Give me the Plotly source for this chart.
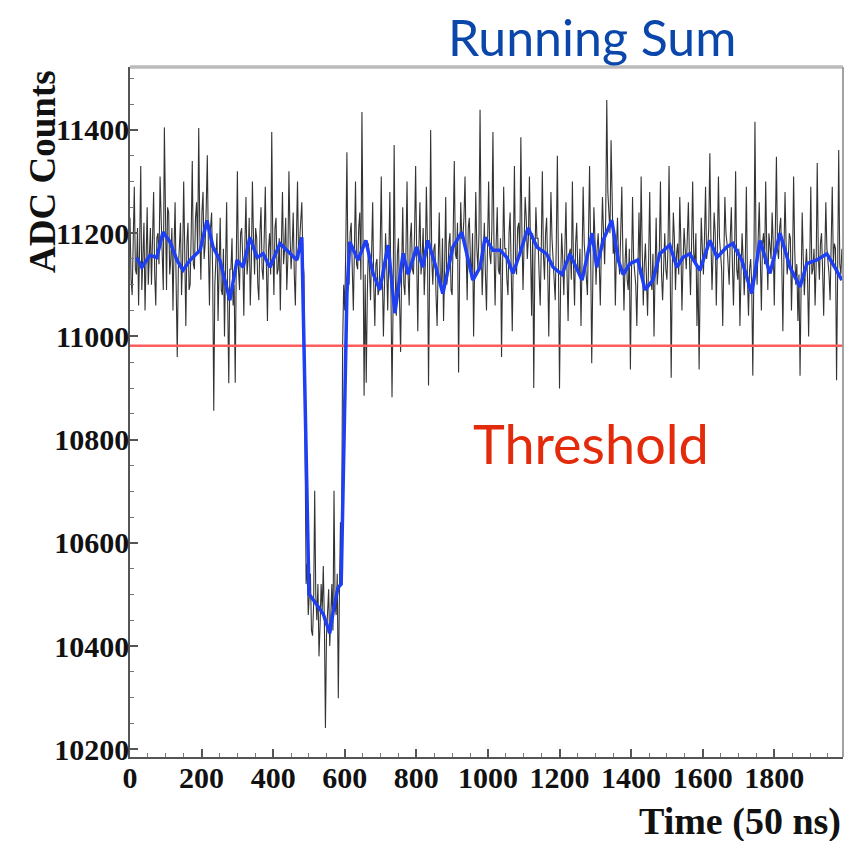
import plotly.graph_objects as go

# ---------------- data ----------------
sample_step = 3  # time units between raw samples shown
raw_adc = [
    11230, 11110, 11080, 11200, 11290, 11130, 11120, 11210, 11060, 11180, 11330, 11090, 11140, 11220, 11050, 11160, 11250, 11100, 11170, 11210,
    11100, 11230, 11280, 11120, 11060, 11190, 11200, 11140, 11310, 11230, 11130, 11090, 11405, 11170, 11090, 11250, 11240, 11120, 11150, 11210,
    11050, 11170, 11260, 11100, 10960, 11130, 11190, 11220, 11080, 11150, 11300, 11110, 11020, 11180, 11220, 11090, 11100, 11200, 11340, 11140,
    11130, 11230, 11260, 11160, 11404, 11200, 11110, 11240, 11280, 11150, 11180, 11250, 11351, 11170, 11060, 11210, 11240, 11120, 10856, 11100,
    11150, 11200, 11030, 11120, 11230, 11090, 11080, 11170, 11000, 11140, 11260, 11060, 10909, 11130, 11130, 11190, 11060, 11100, 10910, 11150,
    11320, 11130, 11090, 11200, 11210, 11150, 11040, 11180, 11270, 11120, 11150, 11230, 11060, 11140, 11300, 11190, 11120, 11210, 11190, 11100,
    11070, 11200, 11250, 11130, 11110, 11190, 11290, 11140, 11030, 11170, 11200, 11120, 11396, 11180, 11080, 11210, 11230, 11120, 11130, 11190,
    11050, 11180, 11280, 11140, 11170, 11230, 11090, 11150, 11320, 11200, 11130, 11170, 11240, 11120, 11060, 11190, 11300, 11150, 11180, 11220,
    11260, 11150, 11120, 10800, 10520, 10560, 10460, 10500, 10540, 10430, 10420, 10480, 10701, 10500, 10450, 10520, 10380, 10440, 10520, 10470,
    10555, 10450, 10241, 10420, 10470, 10510, 10400, 10460, 10520, 10430, 10701, 10480, 10460, 10540, 10299, 10500, 10640, 10560, 10980, 11100,
    11050, 11180, 11357, 11120, 11100, 11200, 11220, 11130, 11050, 11170, 11300, 11140, 11130, 11210, 11240, 11110, 11435, 11190, 10885, 11120,
    10910, 11080, 11180, 11130, 11070, 11160, 11260, 11100, 11020, 11140, 11150, 11080, 11090, 11170, 11310, 11120, 11000, 11100, 11200, 11140,
    11050, 11150, 11280, 11090, 10882, 11060, 11371, 11120, 11040, 11160, 11190, 11070, 10970, 11130, 11250, 11100, 11080, 11170, 11300, 11120,
    11060, 11190, 11220, 11130, 11120, 11200, 11330, 11150, 11010, 11170, 11260, 11120, 11150, 11210, 11080, 11140, 11290, 11180, 10905, 11120,
    11400, 11150, 11100, 11170, 11180, 11080, 11020, 11140, 11240, 11110, 11090, 11190, 11030, 11130, 11270, 11100, 11120, 11180, 11200, 11090,
    11080, 11200, 11340, 11160, 11150, 11220, 10930, 11140, 11260, 11190, 11190, 11230, 11310, 11170, 11070, 11210, 11230, 11150, 11110, 11200,
    11000, 11140, 11280, 11170, 11130, 11200, 11439, 11190, 11080, 11150, 11220, 11120, 11050, 11180, 11300, 11160, 11140, 11210, 11396, 11170,
    11060, 11180, 11250, 11130, 11120, 11190, 10960, 11140, 11290, 11170, 11170, 11110, 11080, 11200, 11240, 11130, 11010, 11160, 11330, 11150,
    11120, 11210, 11220, 11160, 11386, 11200, 11090, 11180, 11270, 11230, 11150, 11190, 11310, 11170, 11040, 11200, 10900, 11140, 11250, 11190,
    11190, 11120, 11060, 11170, 11320, 11160, 11110, 11200, 11230, 11130, 11000, 11150, 11280, 11190, 11140, 11100, 11070, 11180, 11350, 11140,
    10899, 11100, 11200, 11150, 11080, 11170, 11260, 11120, 11030, 11160, 11170, 11110, 11300, 11140, 11060, 11180, 11220, 11130, 11120, 11170,
    11020, 11150, 11290, 11180, 11150, 11120, 11080, 11200, 11330, 11160, 10948, 11110, 11250, 11190, 11100, 11170, 11200, 11140, 11060, 11180,
    11270, 11200, 11140, 11230, 11458, 11280, 11250, 11200, 11380, 11220, 11160, 11190, 11060, 11170, 11230, 11150, 11120, 11200, 11290, 11160,
    11050, 11140, 11190, 11110, 11090, 11170, 10936, 11120, 11270, 11150, 11130, 11100, 11020, 11160, 11240, 11120, 11310, 11170, 11060, 11140,
    11180, 11110, 11040, 11150, 11280, 11120, 11090, 11160, 11000, 11130, 11230, 11100, 11140, 11170, 11300, 11120, 11070, 11150, 11200, 11130,
    11110, 11170, 11330, 11150, 10920, 11130, 11240, 11190, 11090, 11160, 11180, 11120, 11270, 11180, 11050, 11140, 11210, 11170, 11130, 11190,
    11260, 11150, 11080, 11180, 11300, 11160, 11140, 11200, 11020, 11130, 10936, 11110, 11230, 11170, 11120, 11190, 11290, 11150, 11170, 11210,
    11355, 11190, 11090, 11160, 11240, 11200, 11060, 11170, 11310, 11190, 11150, 11130, 11020, 11180, 11270, 11200, 11180, 11140, 11100, 11190,
    11250, 11140, 11060, 11160, 11320, 11130, 11110, 11170, 11020, 11120, 11200, 11150, 11080, 11140, 11290, 11110, 11040, 11130, 11150, 11100,
    10924, 11130, 11416, 11170, 11100, 11190, 11260, 11150, 11050, 11180, 11200, 11140, 11300, 11170, 11090, 11200, 11170, 11150, 11240, 11180,
    11060, 11190, 11348, 11170, 11150, 11210, 11230, 11140, 11010, 11160, 11280, 11180, 11120, 11150, 11200, 11190, 11050, 11140, 11310, 11170,
    11100, 11140, 11030, 11120, 10924, 11100, 11240, 11150, 11080, 11130, 11170, 11110, 11000, 11140, 11290, 11120, 11130, 11170, 11060, 11140,
    11336, 11160, 11110, 11180, 11200, 11130, 11040, 11150, 11260, 11170, 11150, 11120, 11070, 11160, 11290, 11140, 11180, 11170, 10915, 11120,
    11361, 11140, 11120, 11170,
]
raw_time = [i * sample_step for i in range(len(raw_adc))]

sum_time = [19, 33, 56, 75, 92, 112, 131, 148, 168, 196, 215, 232, 251, 279, 299,
            316, 335, 355, 372, 391, 419, 447, 466, 480, 500, 520, 540, 558, 568,
            581, 590, 606, 614, 637, 659, 679, 698, 721, 740, 763, 777, 801, 818,
            832, 852, 874, 902, 927, 944, 958, 978, 992, 1014, 1034, 1053, 1070,
            1089, 1112, 1137, 1164, 1182, 1207, 1229, 1263, 1291, 1304, 1322, 1346,
            1364, 1378, 1397, 1419, 1439, 1461, 1480, 1508, 1528, 1545, 1564, 1592,
            1620, 1640, 1667, 1684, 1709, 1737, 1760, 1788, 1816, 1844, 1872, 1891,
            1919, 1947, 1969, 1989]
sum_adc = [11153, 11134, 11157, 11153, 11202, 11183, 11148, 11128, 11148, 11167,
           11225, 11173, 11148, 11070, 11148, 11134, 11192, 11153, 11160, 11134,
           11180, 11160, 11148, 11192, 10501, 10482, 10462, 10425, 10468, 10513,
           10520, 11083, 11183, 11148, 11186, 11122, 11090, 11177, 11045, 11161,
           11120, 11173, 11134, 11186, 11141, 11083, 11173, 11202, 11148, 11109,
           11134, 11192, 11167, 11167, 11153, 11122, 11160, 11210, 11173, 11160,
           11134, 11120, 11160, 11109, 11200, 11134, 11186, 11225, 11148, 11120,
           11141, 11148, 11090, 11109, 11160, 11177, 11134, 11153, 11160, 11128,
           11186, 11153, 11173, 11180, 11148, 11083, 11186, 11122, 11200, 11134,
           11096, 11141, 11148, 11160, 11134, 11109]

threshold = 10982
x_range = [0, 1992]
y_range = [10185, 11522]
y_ticks = [10200, 10400, 10600, 10800, 11000, 11200, 11400]
y_tick_labels = ["10200", "10400", "10600", "10800", "11000", "11200", "11400"]
x_ticks = [0, 200, 400, 600, 800, 1000, 1200, 1400, 1600, 1800]
x_tick_labels = ["0", "200", "400", "600", "800", "1000", "1200", "1400", "1600", "1800"]

# ---------------- figure ----------------
fig = go.Figure()
fig.add_trace(go.Scatter(x=raw_time, y=raw_adc, mode="lines",
                         line=dict(color="rgba(0,0,0,0.8)", width=1.1),
                         hoverinfo="skip", showlegend=False))
fig.add_trace(go.Scatter(x=x_range, y=[threshold, threshold], mode="lines",
                         line=dict(color="#ff5d5d", width=2.5),
                         hoverinfo="skip", showlegend=False))
fig.add_trace(go.Scatter(x=sum_time, y=sum_adc, mode="lines",
                         line=dict(color="#1e3ff2", width=3.5),
                         hoverinfo="skip", showlegend=False))

tick_font = dict(family="Liberation Serif", size=30, color="#111", weight="bold")

fig.update_xaxes(range=x_range, tickvals=x_ticks, ticktext=x_tick_labels,
                 ticks="inside", ticklen=8, ticklabelstandoff=-7,
                 tickcolor="#555", tickwidth=1.5, showline=True, linecolor="#555",
                 linewidth=1.5, showgrid=False, zeroline=False, tickfont=tick_font,
                 minor=dict(ticks="inside", ticklen=4, dtick=50, tick0=0,
                            tickcolor="#777", tickwidth=1.2, showgrid=False))
fig.update_yaxes(range=y_range, tickvals=y_ticks, ticktext=y_tick_labels,
                 ticks="inside", ticklen=8, ticklabelstandoff=-7,
                 tickcolor="#555", tickwidth=1.5, showline=True, linecolor="#555",
                 linewidth=1.5, showgrid=False, zeroline=False, tickfont=tick_font,
                 minor=dict(ticks="inside", ticklen=4, dtick=50, tick0=10200,
                            tickcolor="#777", tickwidth=1.2, showgrid=False))

fig.update_layout(
    width=858, height=833,
    margin=dict(l=122, r=23, t=59, b=84),
    paper_bgcolor="white", plot_bgcolor="white",
    shapes=[
        dict(type="line", xref="paper", yref="paper", x0=0, x1=1, y0=1, y1=1,
             line=dict(color="#bbbbbb", width=3.5)),
        dict(type="line", xref="paper", yref="paper", x0=1, x1=1, y0=0, y1=1,
             line=dict(color="#999999", width=1.8)),
    ],
    annotations=[
        dict(text="Running Sum", xref="paper", yref="paper", x=0.648, y=1.0435,
             showarrow=False, xanchor="center", yanchor="middle",
             font=dict(family="Lato", size=50, color="#0b47ab")),
        dict(text="Threshold", xref="paper", yref="paper", x=0.647, y=0.455,
             showarrow=False, xanchor="center", yanchor="middle",
             font=dict(family="Lato", size=54, color="#e32b0c")),
        dict(text="ADC Counts", xref="paper", yref="paper", x=-0.122, y=0.848,
             showarrow=False, xanchor="center", yanchor="middle", textangle=-90,
             font=dict(family="Liberation Serif", size=37, color="#111", weight="bold")),
        dict(text="Time (50 ns)", xref="paper", yref="paper", x=1.0, y=-0.094,
             showarrow=False, xanchor="right", yanchor="middle",
             font=dict(family="Liberation Serif", size=38, color="#111", weight="bold")),
    ],
)

fig.write_html("out.html")
